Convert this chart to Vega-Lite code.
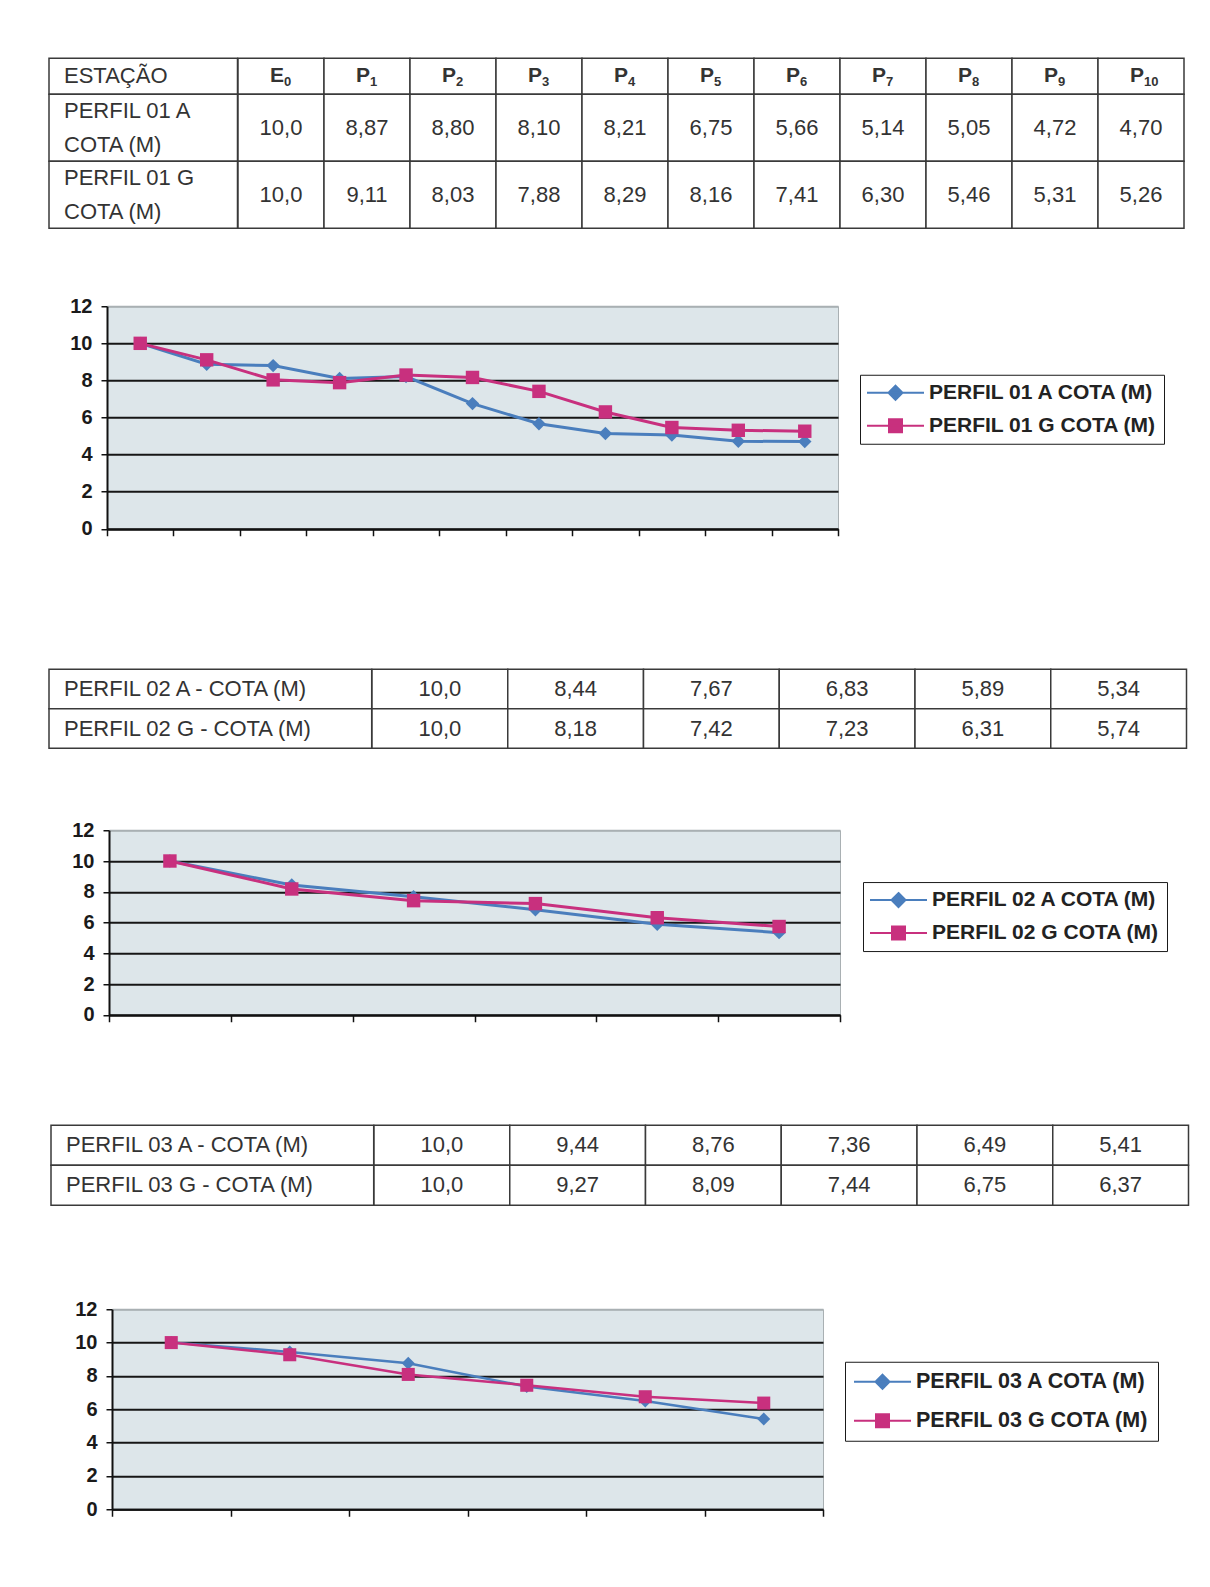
{
  "$schema": "https://vega.github.io/schema/vega-lite/v6.json",
  "background": "white",
  "padding": {"left": 0, "top": 57.25, "right": 0, "bottom": 0},
  "config": {
    "view": {"stroke": null},
    "font": "Liberation Sans",
    "locale": {"number": {"decimal": ",", "thousands": ".", "grouping": [3], "currency": ["R$", ""]}}
  },
  "datasets": {
    "h01": [
      {"key": "E0", "letter": "E", "sub": "0"},
      {"key": "P1", "letter": "P", "sub": "1"},
      {"key": "P2", "letter": "P", "sub": "2"},
      {"key": "P3", "letter": "P", "sub": "3"},
      {"key": "P4", "letter": "P", "sub": "4"},
      {"key": "P5", "letter": "P", "sub": "5"},
      {"key": "P6", "letter": "P", "sub": "6"},
      {"key": "P7", "letter": "P", "sub": "7"},
      {"key": "P8", "letter": "P", "sub": "8"},
      {"key": "P9", "letter": "P", "sub": "9"},
      {"key": "P10", "letter": "P", "sub": "10"}
    ],
    "hl01": [{"col": "ESTAÇÃO", "label": "ESTAÇÃO"}],
    "lab01": [
      {"col": "ESTAÇÃO", "serie": "PERFIL 01 A COTA (M)", "label": "PERFIL 01 A\nCOTA (M)"},
      {"col": "ESTAÇÃO", "serie": "PERFIL 01 G COTA (M)", "label": "PERFIL 01 G\nCOTA (M)"}
    ],
    "lab02": [
      {"col": "perfil", "serie": "PERFIL 02 A COTA (M)", "label": "PERFIL 02 A - COTA (M)"},
      {"col": "perfil", "serie": "PERFIL 02 G COTA (M)", "label": "PERFIL 02 G - COTA (M)"}
    ],
    "lab03": [
      {"col": "perfil", "serie": "PERFIL 03 A COTA (M)", "label": "PERFIL 03 A - COTA (M)"},
      {"col": "perfil", "serie": "PERFIL 03 G COTA (M)", "label": "PERFIL 03 G - COTA (M)"}
    ],
    "p01": [
      {"serie": "PERFIL 01 A COTA (M)", "est": "E0", "cota": 10.0},
      {"serie": "PERFIL 01 A COTA (M)", "est": "P1", "cota": 8.87},
      {"serie": "PERFIL 01 A COTA (M)", "est": "P2", "cota": 8.80},
      {"serie": "PERFIL 01 A COTA (M)", "est": "P3", "cota": 8.10},
      {"serie": "PERFIL 01 A COTA (M)", "est": "P4", "cota": 8.21},
      {"serie": "PERFIL 01 A COTA (M)", "est": "P5", "cota": 6.75},
      {"serie": "PERFIL 01 A COTA (M)", "est": "P6", "cota": 5.66},
      {"serie": "PERFIL 01 A COTA (M)", "est": "P7", "cota": 5.14},
      {"serie": "PERFIL 01 A COTA (M)", "est": "P8", "cota": 5.05},
      {"serie": "PERFIL 01 A COTA (M)", "est": "P9", "cota": 4.72},
      {"serie": "PERFIL 01 A COTA (M)", "est": "P10", "cota": 4.70},
      {"serie": "PERFIL 01 G COTA (M)", "est": "E0", "cota": 10.0},
      {"serie": "PERFIL 01 G COTA (M)", "est": "P1", "cota": 9.11},
      {"serie": "PERFIL 01 G COTA (M)", "est": "P2", "cota": 8.03},
      {"serie": "PERFIL 01 G COTA (M)", "est": "P3", "cota": 7.88},
      {"serie": "PERFIL 01 G COTA (M)", "est": "P4", "cota": 8.29},
      {"serie": "PERFIL 01 G COTA (M)", "est": "P5", "cota": 8.16},
      {"serie": "PERFIL 01 G COTA (M)", "est": "P6", "cota": 7.41},
      {"serie": "PERFIL 01 G COTA (M)", "est": "P7", "cota": 6.30},
      {"serie": "PERFIL 01 G COTA (M)", "est": "P8", "cota": 5.46},
      {"serie": "PERFIL 01 G COTA (M)", "est": "P9", "cota": 5.31},
      {"serie": "PERFIL 01 G COTA (M)", "est": "P10", "cota": 5.26}
    ],
    "p02": [
      {"serie": "PERFIL 02 A COTA (M)", "est": "E0", "cota": 10.0},
      {"serie": "PERFIL 02 A COTA (M)", "est": "P1", "cota": 8.44},
      {"serie": "PERFIL 02 A COTA (M)", "est": "P2", "cota": 7.67},
      {"serie": "PERFIL 02 A COTA (M)", "est": "P3", "cota": 6.83},
      {"serie": "PERFIL 02 A COTA (M)", "est": "P4", "cota": 5.89},
      {"serie": "PERFIL 02 A COTA (M)", "est": "P5", "cota": 5.34},
      {"serie": "PERFIL 02 G COTA (M)", "est": "E0", "cota": 10.0},
      {"serie": "PERFIL 02 G COTA (M)", "est": "P1", "cota": 8.18},
      {"serie": "PERFIL 02 G COTA (M)", "est": "P2", "cota": 7.42},
      {"serie": "PERFIL 02 G COTA (M)", "est": "P3", "cota": 7.23},
      {"serie": "PERFIL 02 G COTA (M)", "est": "P4", "cota": 6.31},
      {"serie": "PERFIL 02 G COTA (M)", "est": "P5", "cota": 5.74}
    ],
    "p03": [
      {"serie": "PERFIL 03 A COTA (M)", "est": "E0", "cota": 10.0},
      {"serie": "PERFIL 03 A COTA (M)", "est": "P1", "cota": 9.44},
      {"serie": "PERFIL 03 A COTA (M)", "est": "P2", "cota": 8.76},
      {"serie": "PERFIL 03 A COTA (M)", "est": "P3", "cota": 7.36},
      {"serie": "PERFIL 03 A COTA (M)", "est": "P4", "cota": 6.49},
      {"serie": "PERFIL 03 A COTA (M)", "est": "P5", "cota": 5.41},
      {"serie": "PERFIL 03 G COTA (M)", "est": "E0", "cota": 10.0},
      {"serie": "PERFIL 03 G COTA (M)", "est": "P1", "cota": 9.27},
      {"serie": "PERFIL 03 G COTA (M)", "est": "P2", "cota": 8.09},
      {"serie": "PERFIL 03 G COTA (M)", "est": "P3", "cota": 7.44},
      {"serie": "PERFIL 03 G COTA (M)", "est": "P4", "cota": 6.75},
      {"serie": "PERFIL 03 G COTA (M)", "est": "P5", "cota": 6.37}
    ]
  },
  "spacing": 0,
  "resolve": {"scale": {"color": "independent", "shape": "independent"}, "legend": {"color": "independent", "shape": "independent"}},
  "vconcat": [
    {
      "spacing": 0,
      "hconcat": [
        {"width": 47.5, "height": 236.75, "data": {"values": []}, "mark": {"type": "rect", "opacity": 0}, "view": {"fill": "white", "stroke": null}},
        {
          "columns": 2, "spacing": 0, "bounds": "flush", "align": "each",
          "concat": [
            {
              "width": 188.5, "height": 36,
              "data": {"name": "hl01"},
              "encoding": {"x": {"field": "col", "type": "nominal", "axis": null, "scale": {"paddingInner": 0, "paddingOuter": 0}}},
              "layer": [
                {"mark": {"type": "rect", "fill": "white", "stroke": "#3a3a3a", "strokeWidth": 1.5}},
                {"mark": {"type": "text", "align": "left", "dx": 15, "fontSize": 22, "color": "#333"},
                 "encoding": {"x": {"field": "col", "type": "nominal", "axis": null, "bandPosition": 0}, "text": {"field": "label"}}}
              ]
            },
            {
              "width": 946, "height": 36,
              "data": {"name": "h01"},
              "encoding": {"x": {"field": "key", "type": "nominal", "sort": null, "axis": null, "scale": {"paddingInner": 0, "paddingOuter": 0}}},
              "layer": [
                {"mark": {"type": "rect", "fill": "white", "stroke": "#3a3a3a", "strokeWidth": 1.5}},
                {"mark": {"type": "text", "align": "right", "dx": 3, "fontSize": 21, "fontWeight": "bold", "color": "#333"}, "encoding": {"text": {"field": "letter"}}},
                {"mark": {"type": "text", "align": "left", "dx": 3, "dy": 6, "fontSize": 13, "fontWeight": "bold", "color": "#333"}, "encoding": {"text": {"field": "sub"}}}
              ]
            },
            {
              "width": 188.5, "height": 134,
              "data": {"name": "lab01"},
              "encoding": {
                "x": {"field": "col", "type": "nominal", "axis": null, "scale": {"paddingInner": 0, "paddingOuter": 0}},
                "y": {"field": "serie", "type": "nominal", "sort": null, "axis": null, "scale": {"paddingInner": 0, "paddingOuter": 0}}
              },
              "layer": [
                {"mark": {"type": "rect", "fill": "white", "stroke": "#3a3a3a", "strokeWidth": 1.5}},
                {"mark": {"type": "text", "align": "left", "dx": 15, "dy": -17, "fontSize": 22, "color": "#333", "lineBreak": "\n", "lineHeight": 34},
                 "encoding": {"x": {"field": "col", "type": "nominal", "axis": null, "bandPosition": 0}, "text": {"field": "label"}}}
              ]
            },
            {
              "width": 946, "height": 134,
              "data": {"name": "p01"},
              "encoding": {
                "x": {"field": "est", "type": "nominal", "sort": null, "axis": null, "scale": {"paddingInner": 0, "paddingOuter": 0}},
                "y": {"field": "serie", "type": "nominal", "sort": null, "axis": null, "scale": {"paddingInner": 0, "paddingOuter": 0}}
              },
              "layer": [
                {"mark": {"type": "rect", "fill": "white", "stroke": "#3a3a3a", "strokeWidth": 1.5}},
                {"mark": {"type": "text", "fontSize": 22, "color": "#333"},
                 "encoding": {"text": {"condition": {"test": "datum.cota >= 10", "field": "cota", "type": "quantitative", "format": ".1f"}, "field": "cota", "type": "quantitative", "format": ".2f"}}}
              ]
            }
          ]
        }
      ]
    },
    {
      "spacing": 0, "bounds": "flush",
      "hconcat": [
        {"width": 107, "height": 361.55, "data": {"values": []}, "mark": {"type": "rect", "opacity": 0}, "view": {"fill": "white", "stroke": null}},
        {
          "width": 731, "height": 222.5,
          "data": {"name": "p01"},
          "view": {"fill": "#dde6ea", "stroke": "#a9b0b3", "strokeWidth": 1},
          "encoding": {
            "x": {"field": "est", "type": "nominal", "sort": null, "scale": {"type": "band", "paddingInner": 0, "paddingOuter": 0},
                  "axis": {"labels": false, "title": null, "domainColor": "#111", "domainWidth": 2, "tickColor": "#111", "tickWidth": 1.5, "tickSize": 7, "tickBand": "extent", "grid": false}},
            "y": {"field": "cota", "type": "quantitative", "scale": {"domain": [0, 12], "nice": false},
                  "axis": {"values": [0, 2, 4, 6, 8, 10, 12], "title": null, "labelFontWeight": "bold", "labelFontSize": 20, "labelColor": "#1a1a1a", "labelPadding": 9, "tickSize": 6, "tickColor": "#111", "tickWidth": 1.5, "domainColor": "#111", "domainWidth": 2,
                           "gridColor": {"condition": {"test": "datum.value === 12", "value": "#a9b0b3"}, "value": "#161616"}, "gridWidth": 2}},
            "color": {"field": "serie", "type": "nominal", "sort": null, "scale": {"range": ["#4a7ebd", "#c8307e"]},
                      "legend": {"orient": "none", "legendX": 860, "legendY": 68.5, "title": null, "direction": "vertical",
                                 "symbolSize": 400, "symbolStrokeWidth": 2,
                                 "labelFontWeight": "bold", "labelFontSize": 21, "labelColor": "#222", "labelLimit": 500, "labelOffset": 40,
                                 "strokeColor": "#1a1a1a", "fillColor": "white", "padding": 7, "rowPadding": 11,
                                 "encode": {"symbols": {"update": {
                                   "shape": {"signal": "indexof(datum.value, ' A ') > 0 ? 'M-1.1,0H4.6M1.75,-0.7L2.45,0L1.75,0.7L1.05,0Z' : 'M-1.1,0H4.6M1.1,-0.65H2.4V0.65H1.1Z'"},
                                   "fill": {"signal": "indexof(datum.value, ' A ') > 0 ? '#4a7ebd' : '#c8307e'"},
                                   "stroke": {"signal": "indexof(datum.value, ' A ') > 0 ? '#4a7ebd' : '#c8307e'"},
                                   "strokeWidth": {"value": 2}, "opacity": {"value": 1}}}}}}
          },
          "layer": [
            {"mark": {"type": "line", "strokeWidth": 3}},
            {"mark": {"type": "point", "filled": true, "opacity": 1, "size": 180},
             "encoding": {"shape": {"field": "serie", "type": "nominal", "sort": null, "scale": {"range": ["diamond", "square"]}, "legend": null}}}
          ]
        }
      ]
    },
    {
      "spacing": 0, "bounds": "flush",
      "hconcat": [
        {"width": 48.6, "height": 149.9, "data": {"values": []}, "mark": {"type": "rect", "opacity": 0}, "view": {"fill": "white", "stroke": null}},
        {
          "width": 322.7, "height": 79,
          "data": {"name": "lab02"},
          "encoding": {
            "x": {"field": "col", "type": "nominal", "axis": null, "scale": {"paddingInner": 0, "paddingOuter": 0}},
            "y": {"field": "serie", "type": "nominal", "sort": null, "axis": null, "scale": {"paddingInner": 0, "paddingOuter": 0}}
          },
          "layer": [
            {"mark": {"type": "rect", "fill": "white", "stroke": "#3a3a3a", "strokeWidth": 1.5}},
            {"mark": {"type": "text", "align": "left", "dx": 15, "fontSize": 22, "color": "#333"},
             "encoding": {"x": {"field": "col", "type": "nominal", "axis": null, "bandPosition": 0}, "text": {"field": "label"}}}
          ]
        },
        {
          "width": 814.5, "height": 79,
          "data": {"name": "p02"},
          "encoding": {
            "x": {"field": "est", "type": "nominal", "sort": null, "axis": null, "scale": {"paddingInner": 0, "paddingOuter": 0}},
            "y": {"field": "serie", "type": "nominal", "sort": null, "axis": null, "scale": {"paddingInner": 0, "paddingOuter": 0}}
          },
          "layer": [
            {"mark": {"type": "rect", "fill": "white", "stroke": "#3a3a3a", "strokeWidth": 1.5}},
            {"mark": {"type": "text", "fontSize": 22, "color": "#333"},
             "encoding": {"text": {"condition": {"test": "datum.cota >= 10", "field": "cota", "type": "quantitative", "format": ".1f"}, "field": "cota", "type": "quantitative", "format": ".2f"}}}
          ]
        }
      ]
    },
    {
      "spacing": 0, "bounds": "flush",
      "hconcat": [
        {"width": 108.3, "height": 293.05, "data": {"values": []}, "mark": {"type": "rect", "opacity": 0}, "view": {"fill": "white", "stroke": null}},
        {
          "width": 731, "height": 184.5,
          "data": {"name": "p02"},
          "view": {"fill": "#dde6ea", "stroke": "#a9b0b3", "strokeWidth": 1},
          "encoding": {
            "x": {"field": "est", "type": "nominal", "sort": null, "scale": {"type": "band", "paddingInner": 0, "paddingOuter": 0},
                  "axis": {"labels": false, "title": null, "domainColor": "#111", "domainWidth": 2, "tickColor": "#111", "tickWidth": 1.5, "tickSize": 7, "tickBand": "extent", "grid": false}},
            "y": {"field": "cota", "type": "quantitative", "scale": {"domain": [0, 12], "nice": false},
                  "axis": {"values": [0, 2, 4, 6, 8, 10, 12], "title": null, "labelFontWeight": "bold", "labelFontSize": 20, "labelColor": "#1a1a1a", "labelPadding": 9, "tickSize": 6, "tickColor": "#111", "tickWidth": 1.5, "domainColor": "#111", "domainWidth": 2,
                           "gridColor": {"condition": {"test": "datum.value === 12", "value": "#a9b0b3"}, "value": "#161616"}, "gridWidth": 2}},
            "color": {"field": "serie", "type": "nominal", "sort": null, "scale": {"range": ["#4a7ebd", "#c8307e"]},
                      "legend": {"orient": "none", "legendX": 863, "legendY": 51.8, "title": null, "direction": "vertical",
                                 "symbolSize": 400, "symbolStrokeWidth": 2,
                                 "labelFontWeight": "bold", "labelFontSize": 21, "labelColor": "#222", "labelLimit": 500, "labelOffset": 40,
                                 "strokeColor": "#1a1a1a", "fillColor": "white", "padding": 7, "rowPadding": 11,
                                 "encode": {"symbols": {"update": {
                                   "shape": {"signal": "indexof(datum.value, ' A ') > 0 ? 'M-1.1,0H4.6M1.75,-0.7L2.45,0L1.75,0.7L1.05,0Z' : 'M-1.1,0H4.6M1.1,-0.65H2.4V0.65H1.1Z'"},
                                   "fill": {"signal": "indexof(datum.value, ' A ') > 0 ? '#4a7ebd' : '#c8307e'"},
                                   "stroke": {"signal": "indexof(datum.value, ' A ') > 0 ? '#4a7ebd' : '#c8307e'"},
                                   "strokeWidth": {"value": 2}, "opacity": {"value": 1}}}}}}
          },
          "layer": [
            {"mark": {"type": "line", "strokeWidth": 3}},
            {"mark": {"type": "point", "filled": true, "opacity": 1, "size": 180},
             "encoding": {"shape": {"field": "serie", "type": "nominal", "sort": null, "scale": {"range": ["diamond", "square"]}, "legend": null}}}
          ]
        }
      ]
    },
    {
      "spacing": 0, "bounds": "flush",
      "hconcat": [
        {"width": 50.6, "height": 172.5, "data": {"values": []}, "mark": {"type": "rect", "opacity": 0}, "view": {"fill": "white", "stroke": null}},
        {
          "width": 322.7, "height": 80,
          "data": {"name": "lab03"},
          "encoding": {
            "x": {"field": "col", "type": "nominal", "axis": null, "scale": {"paddingInner": 0, "paddingOuter": 0}},
            "y": {"field": "serie", "type": "nominal", "sort": null, "axis": null, "scale": {"paddingInner": 0, "paddingOuter": 0}}
          },
          "layer": [
            {"mark": {"type": "rect", "fill": "white", "stroke": "#3a3a3a", "strokeWidth": 1.5}},
            {"mark": {"type": "text", "align": "left", "dx": 15, "fontSize": 22, "color": "#333"},
             "encoding": {"x": {"field": "col", "type": "nominal", "axis": null, "bandPosition": 0}, "text": {"field": "label"}}}
          ]
        },
        {
          "width": 814.5, "height": 80,
          "data": {"name": "p03"},
          "encoding": {
            "x": {"field": "est", "type": "nominal", "sort": null, "axis": null, "scale": {"paddingInner": 0, "paddingOuter": 0}},
            "y": {"field": "serie", "type": "nominal", "sort": null, "axis": null, "scale": {"paddingInner": 0, "paddingOuter": 0}}
          },
          "layer": [
            {"mark": {"type": "rect", "fill": "white", "stroke": "#3a3a3a", "strokeWidth": 1.5}},
            {"mark": {"type": "text", "fontSize": 22, "color": "#333"},
             "encoding": {"text": {"condition": {"test": "datum.cota >= 10", "field": "cota", "type": "quantitative", "format": ".1f"}, "field": "cota", "type": "quantitative", "format": ".2f"}}}
          ]
        }
      ]
    },
    {
      "spacing": 0, "bounds": "flush",
      "hconcat": [
        {"width": 111.3, "height": 278.5, "data": {"values": []}, "mark": {"type": "rect", "opacity": 0}, "view": {"fill": "white", "stroke": null}},
        {
          "width": 711, "height": 200,
          "data": {"name": "p03"},
          "view": {"fill": "#dde6ea", "stroke": "#a9b0b3", "strokeWidth": 1},
          "encoding": {
            "x": {"field": "est", "type": "nominal", "sort": null, "scale": {"type": "band", "paddingInner": 0, "paddingOuter": 0},
                  "axis": {"labels": false, "title": null, "domainColor": "#111", "domainWidth": 2, "tickColor": "#111", "tickWidth": 1.5, "tickSize": 7, "tickBand": "extent", "grid": false}},
            "y": {"field": "cota", "type": "quantitative", "scale": {"domain": [0, 12], "nice": false},
                  "axis": {"values": [0, 2, 4, 6, 8, 10, 12], "title": null, "labelFontWeight": "bold", "labelFontSize": 20, "labelColor": "#1a1a1a", "labelPadding": 9, "tickSize": 6, "tickColor": "#111", "tickWidth": 1.5, "domainColor": "#111", "domainWidth": 2,
                           "gridColor": {"condition": {"test": "datum.value === 12", "value": "#a9b0b3"}, "value": "#161616"}, "gridWidth": 2}},
            "color": {"field": "serie", "type": "nominal", "sort": null, "scale": {"range": ["#4a7ebd", "#c8307e"]},
                      "legend": {"orient": "none", "legendX": 845, "legendY": 52.5, "title": null, "direction": "vertical",
                                 "symbolSize": 400, "symbolStrokeWidth": 2,
                                 "labelFontWeight": "bold", "labelFontSize": 21.5, "labelColor": "#222", "labelLimit": 500, "labelOffset": 40,
                                 "strokeColor": "#1a1a1a", "fillColor": "white", "padding": 9, "rowPadding": 17,
                                 "encode": {"symbols": {"update": {
                                   "shape": {"signal": "indexof(datum.value, ' A ') > 0 ? 'M-1.1,0H4.6M1.75,-0.7L2.45,0L1.75,0.7L1.05,0Z' : 'M-1.1,0H4.6M1.1,-0.65H2.4V0.65H1.1Z'"},
                                   "fill": {"signal": "indexof(datum.value, ' A ') > 0 ? '#4a7ebd' : '#c8307e'"},
                                   "stroke": {"signal": "indexof(datum.value, ' A ') > 0 ? '#4a7ebd' : '#c8307e'"},
                                   "strokeWidth": {"value": 2}, "opacity": {"value": 1}}}}}}
          },
          "layer": [
            {"mark": {"type": "line", "strokeWidth": 2.5}},
            {"mark": {"type": "point", "filled": true, "opacity": 1, "size": 170},
             "encoding": {"shape": {"field": "serie", "type": "nominal", "sort": null, "scale": {"range": ["diamond", "square"]}, "legend": null}}}
          ]
        }
      ]
    }
  ]
}
